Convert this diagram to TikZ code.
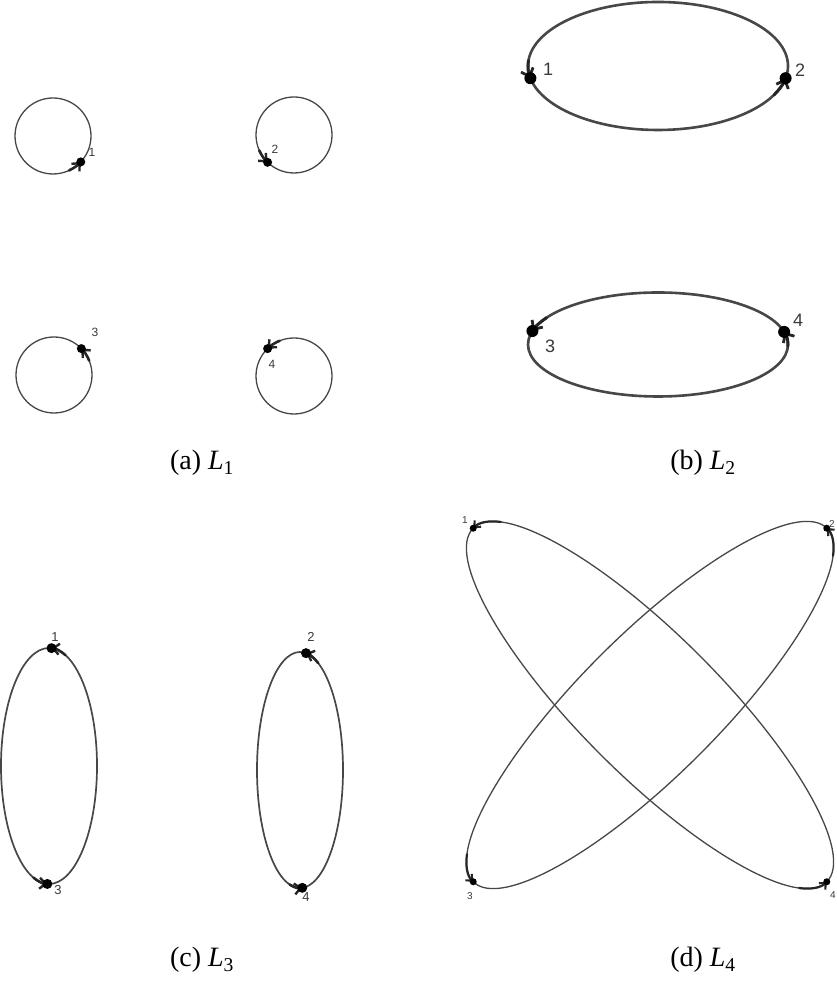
\documentclass[tikz,border=0pt]{standalone}
\usepackage{fontspec}
\setmainfont{Liberation Serif}
\newfontfamily\labfont{Liberation Sans}
\usetikzlibrary{arrows.meta,calc}
\definecolor{curvegray}{HTML}{474747}
\definecolor{labgray}{HTML}{3A3A3A}
\tikzset{
  curve/.style={draw=curvegray, line width=#1},
  mk/.style={draw=black!85, line width=#1, line cap=round},
  mka/.style={mk=2.6pt, -{Straight Barb[length=6pt, width=11pt, line width=2.4pt]}},
  mkb/.style={mk=3pt, -{Straight Barb[length=7pt, width=13pt, line width=2.8pt]}},
  mkc/.style={mk=2.6pt, -{Straight Barb[length=6pt, width=11pt, line width=2.4pt]}},
  mkd/.style={mk=2.2pt, -{Straight Barb[length=5pt, width=9pt, line width=2.1pt]}},
  dot/.style={circle, fill=black, draw=none, inner sep=0pt, minimum size=#1},
  lab/.style={font=\labfont\fontsize{#1}{#1}\selectfont, text=labgray, inner sep=0pt},
  captxt/.style={font=\fontsize{28}{28}\selectfont, inner sep=0pt}
}
\begin{document}
\begin{tikzpicture}[x=1pt,y=1pt]
\useasboundingbox (0,0) rectangle (836,1000);

% ---------- (a) ----------
\foreach \n/\cx/\cy/\ang in {1/53/864/-43, 2/294/865/-134, 3/54/625/44, 4/294/624/134}{
  \draw[curve=1.3pt] (\cx,\cy) circle[radius=38];
  \draw[mka] ($(\cx,\cy)+(\ang-22:38)$) arc[start angle=\ang-22, end angle=\ang, radius=38];
  \node[dot=9pt] (a\n) at ($(\cx,\cy)+(\ang:38)$) {};
}
\node[lab=12] (la1) at (92,848) {1};
\node[lab=12] (la2) at (275,851) {2};
\node[lab=12] (la3) at (95,668) {3};
\node[lab=12] (la4) at (272,636) {4};

% ---------- (b) ----------
\begin{scope}[shift={(658,934)}]
  \draw[curve=2.6pt] (0,0) ellipse[x radius=130, y radius=64];
  \draw[mkb] (175:130 and 64) arc[start angle=175, end angle=191, x radius=130, y radius=64];
  \draw[mkb] (-27:130 and 64) arc[start angle=-27, end angle=-11, x radius=130, y radius=64];
  \node[dot=12pt] (b1) at (191:130 and 64) {};
  \node[dot=12pt] (b2) at (-11:130 and 64) {};
\end{scope}
\begin{scope}[shift={(658,655.5)}]
  \draw[curve=2.6pt] (0,0) ellipse[x radius=130, y radius=52];
  \draw[mkb] (149:130 and 52) arc[start angle=149, end angle=165, x radius=130, y radius=52];
  \draw[mkb] (-2:130 and 52) arc[start angle=-2, end angle=14, x radius=130, y radius=52];
  \node[dot=12pt] (b3) at (165:130 and 52) {};
  \node[dot=12pt] (b4) at (14:130 and 52) {};
\end{scope}
\node[lab=18] (lb1) at (548,931) {1};
\node[lab=18] (lb2) at (800,930) {2};
\node[lab=18] (lb3) at (550,654) {3};
\node[lab=18] (lb4) at (798,680) {4};

% ---------- (c) ----------
\begin{scope}[shift={(49,234)}]
  \draw[curve=1.7pt] (0,0) ellipse[x radius=48, y radius=118];
  \draw[mkc] (70:48 and 118) arc[start angle=70, end angle=87, x radius=48, y radius=118];
  \draw[mkc] (251:48 and 118) arc[start angle=251, end angle=268, x radius=48, y radius=118];
  \node[dot=10pt] (c1) at (87:48 and 118) {};
  \node[dot=10pt] (c3) at (268:48 and 118) {};
\end{scope}
\begin{scope}[shift={(300,230)}]
  \draw[curve=1.7pt] (0,0) ellipse[x radius=43, y radius=118];
  \draw[mkc] (65:43 and 118) arc[start angle=65, end angle=82, x radius=43, y radius=118];
  \draw[mkc] (256:43 and 118) arc[start angle=256, end angle=273, x radius=43, y radius=118];
  \node[dot=10pt] (c2) at (82:43 and 118) {};
  \node[dot=10pt] (c4) at (273:43 and 118) {};
\end{scope}
\node[lab=13] (lc1) at (55,363) {1};
\node[lab=13] (lc2) at (311,363) {2};
\node[lab=13] (lc3) at (58,110) {3};
\node[lab=13] (lc4) at (306,103) {4};

% ---------- (d) ----------
\begin{scope}[shift={(650,295)}, rotate=-45]
  \draw[curve=1.3pt] (0,0) ellipse[x radius=250, y radius=70];
  \draw[mkd] (160:250 and 70) arc[start angle=160, end angle=180, x radius=250, y radius=70];
  \draw[mkd] (-20:250 and 70) arc[start angle=-20, end angle=0, x radius=250, y radius=70];
  \node[dot=7pt] (d1) at (180:250 and 70) {};
  \node[dot=7pt] (d4) at (0:250 and 70) {};
\end{scope}
\begin{scope}[shift={(650,295)}, rotate=45]
  \draw[curve=1.3pt] (0,0) ellipse[x radius=250, y radius=70];
  \draw[mkd] (-20:250 and 70) arc[start angle=-20, end angle=0, x radius=250, y radius=70];
  \draw[mkd] (160:250 and 70) arc[start angle=160, end angle=180, x radius=250, y radius=70];
  \node[dot=7pt] (d2) at (0:250 and 70) {};
  \node[dot=7pt] (d3) at (180:250 and 70) {};
\end{scope}
\node[lab=10] (ld1) at (465,480) {1};
\node[lab=10] (ld2) at (832,476) {2};
\node[lab=10] (ld3) at (470,104) {3};
\node[lab=10] (ld4) at (833,105) {4};

% ---------- captions ----------
\node[captxt] (capa) at (202,537) {(a) \textit{L}\textsubscript{1}};
\node[captxt] (capb) at (703,537) {(b) \textit{L}\textsubscript{2}};
\node[captxt] (capc) at (202,40) {(c) \textit{L}\textsubscript{3}};
\node[captxt] (capd) at (703,40) {(d) \textit{L}\textsubscript{4}};
\end{tikzpicture}
\end{document}
